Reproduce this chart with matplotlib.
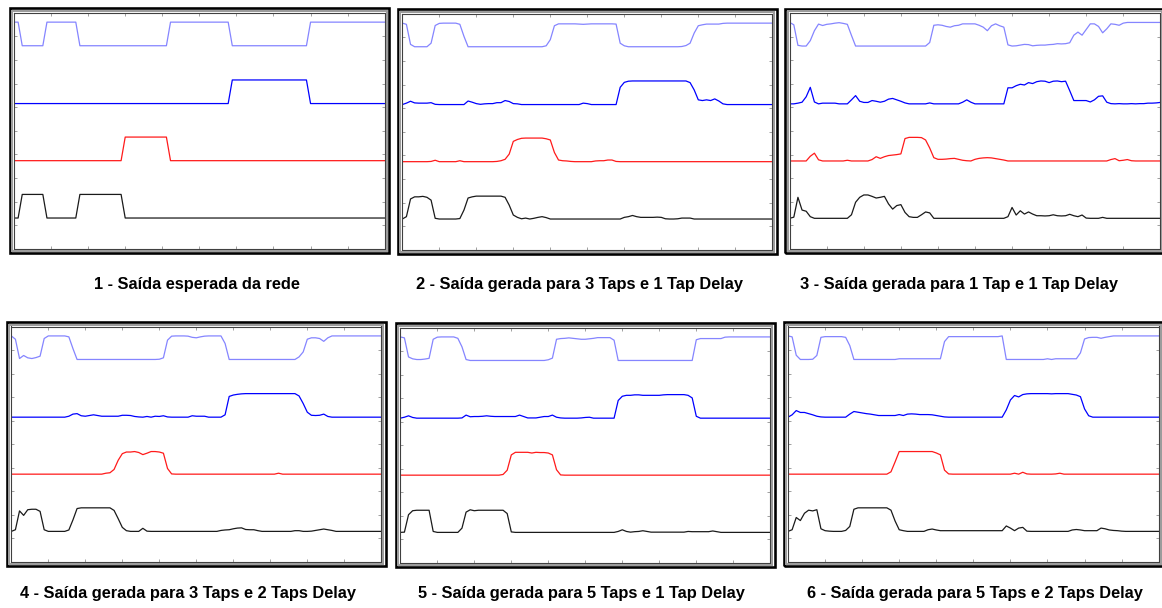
import matplotlib
matplotlib.use('Agg')
import matplotlib.pyplot as plt
from matplotlib.patches import Rectangle

W, H = 1162, 608

# time steps of the sequence (91 samples)
passos = list(range(91))

# output level of each channel, in % of one step (0 = low, 100 = high)
# 1 - expected output
esperada_c1 = [
    100,100,0,0,0,0,0,0,100,100, 100,100,100,100,100,100,0,0,0,0,
    0,0,0,0,0,0,0,0,0,0, 0,0,0,0,0,0,0,0,100,100,
    100,100,100,100,100,100,100,100,100,100, 100,100,100,0,0,0,0,0,0,0,
    0,0,0,0,0,0,0,0,0,0, 0,0,100,100,100,100,100,100,100,100,
    100,100,100,100,100,100,100,100,100,100, 100]
esperada_c2 = [
    0,0,0,0,0,0,0,0,0,0, 0,0,0,0,0,0,0,0,0,0,
    0,0,0,0,0,0,0,0,0,0, 0,0,0,0,0,0,0,0,0,0,
    0,0,0,0,0,0,0,0,0,0, 0,0,0,100,100,100,100,100,100,100,
    100,100,100,100,100,100,100,100,100,100, 100,100,0,0,0,0,0,0,0,0,
    0,0,0,0,0,0,0,0,0,0, 0]
esperada_c3 = [
    0,0,0,0,0,0,0,0,0,0, 0,0,0,0,0,0,0,0,0,0,
    0,0,0,0,0,0,0,100,100,100, 100,100,100,100,100,100,100,100,0,0,
    0,0,0,0,0,0,0,0,0,0, 0,0,0,0,0,0,0,0,0,0,
    0,0,0,0,0,0,0,0,0,0, 0,0,0,0,0,0,0,0,0,0,
    0,0,0,0,0,0,0,0,0,0, 0]
esperada_c4 = [
    0,0,100,100,100,100,100,100,0,0, 0,0,0,0,0,0,100,100,100,100,
    100,100,100,100,100,100,100,0,0,0, 0,0,0,0,0,0,0,0,0,0,
    0,0,0,0,0,0,0,0,0,0, 0,0,0,0,0,0,0,0,0,0,
    0,0,0,0,0,0,0,0,0,0, 0,0,0,0,0,0,0,0,0,0,
    0,0,0,0,0,0,0,0,0,0, 0]

# 2 - 3 taps, 1 tap delay
t3d1_c1 = [
    100,95,10,0,0,0,0,15,90,99, 100,100,100,100,95,44,0,0,0,0,
    0,0,0,0,0,0,0,0,0,0, 0,0,0,0,0,4,30,89,97,97,
    97,97,97,96,95,96,97,97,97,97, 97,97,96,15,4,0,0,0,0,0,
    0,0,0,0,0,0,0,0,1,5, 15,58,89,93,96,96,96,96,99,100,
    100,100,100,100,100,100,100,100,100,100, 100]
t3d1_c2 = [
    0,6,14,7,6,6,6,8,1,0, 0,0,0,0,0,0,15,10,4,1,
    3,4,4,8,8,17,13,4,3,0, 0,0,0,0,0,0,0,0,0,0,
    0,0,0,0,6,4,0,0,0,0, 0,0,0,73,94,99,100,100,100,100,
    100,100,100,100,100,100,100,100,100,100, 93,62,20,17,20,17,24,15,3,0,
    0,0,0,0,0,0,0,0,0,0, 0]
t3d1_c3 = [
    0,0,0,0,0,0,0,1,6,0, 0,0,0,0,4,0,0,0,0,0,
    0,0,0,1,4,10,32,86,94,99, 100,100,100,100,100,97,92,39,7,4,
    3,1,0,0,0,0,0,3,4,4, 7,7,1,0,0,0,0,0,0,0,
    0,0,0,0,0,0,0,0,0,0, 0,0,0,0,0,0,0,0,0,0,
    0,0,0,0,0,0,0,0,0,0, 0]
t3d1_c4 = [
    0,10,85,94,94,96,92,80,3,0, 0,0,0,0,2,38,89,94,97,97,
    97,97,97,97,97,92,59,17,7,1, 4,0,3,7,10,6,0,0,0,0,
    0,0,0,0,0,0,0,0,0,0, 0,0,0,0,7,10,15,10,7,7,
    7,7,8,7,1,0,0,1,4,4, 4,0,0,0,0,0,0,0,0,0,
    0,0,0,0,0,0,0,0,0,0, 0]

# 3 - 1 tap, 1 tap delay
t1d1_c1 = [
    100,90,3,0,0,23,65,93,87,92, 94,97,99,96,92,45,0,0,0,0,
    0,0,0,0,0,0,0,0,0,0, 0,0,0,0,15,88,90,88,83,80,
    86,88,94,94,94,94,88,80,65,86, 94,86,80,5,0,1,4,7,6,1,
    3,4,4,6,7,10,9,10,14,46, 59,46,70,94,94,83,56,73,94,92,
    88,97,100,100,100,100,100,100,100,100, 100]
t1d1_c2 = [
    0,0,3,7,30,70,8,0,3,3, 3,3,0,0,0,17,35,11,6,6,
    14,11,7,11,20,23,17,11,4,0, 0,0,0,0,4,0,0,0,0,0,
    0,0,7,17,7,0,0,0,0,0, 0,0,0,68,68,77,83,80,90,86,
    94,97,96,90,96,97,94,96,56,14, 14,14,14,8,17,32,34,7,1,0,
    1,0,0,1,0,1,1,3,3,4, 6]
t1d1_c3 = [
    0,0,0,0,0,20,33,5,0,0, 0,0,0,0,3,0,0,0,0,0,
    6,18,11,18,23,25,27,30,95,100, 100,100,99,89,55,14,7,7,8,10,
    11,7,3,1,0,7,11,13,14,13, 10,7,4,0,0,0,0,0,0,0,
    0,0,0,0,0,0,0,0,0,0, 0,0,0,0,0,0,0,0,6,10,
    1,3,6,1,0,0,0,0,0,0, 0]
t1d1_c4 = [
    0,5,89,35,30,7,0,0,0,0, 0,0,0,0,0,15,68,89,99,99,
    93,86,89,93,61,39,54,58,25,7, 4,4,15,27,23,0,0,0,0,0,
    0,0,0,0,0,0,0,0,0,0, 0,0,0,7,46,14,32,18,27,18,
    11,11,10,11,15,11,10,11,17,11, 7,14,1,0,0,0,4,0,0,0,
    0,0,0,0,0,0,0,0,0,0, 0]

# 4 - 3 taps, 2 taps delay
t3d2_c1 = [
    100,86,4,17,7,4,8,14,89,100, 100,100,100,100,96,46,0,0,0,0,
    0,0,0,0,0,0,0,0,0,0, 0,0,0,0,0,0,1,7,82,99,
    100,100,100,99,94,92,96,99,100,100, 100,100,68,0,0,0,0,0,0,0,
    0,0,0,0,0,0,0,0,0,0, 11,32,86,92,92,89,77,92,100,100,
    100,100,100,100,100,100,100,100,100,100, 100]
t3d2_c2 = [
    0,0,0,0,0,0,0,0,0,0, 0,0,0,0,4,13,15,6,4,7,
    10,7,4,4,4,4,4,8,8,7, 3,1,0,3,0,4,3,6,1,0,
    0,0,0,0,6,4,4,4,0,0, 0,0,10,88,94,97,99,100,100,100,
    100,100,100,100,100,100,100,100,100,100, 90,58,21,8,7,8,13,3,0,0,
    0,0,0,0,0,0,0,0,0,0, 0]
t3d2_c3 = [
    0,0,0,0,0,0,0,0,0,0, 0,0,0,0,0,0,0,0,0,0,
    0,0,0,4,6,20,59,87,94,94, 96,92,83,89,96,96,94,89,24,1,
    0,0,0,0,0,0,0,0,0,0, 0,0,0,0,0,0,0,0,0,0,
    0,0,0,0,0,4,0,0,0,0, 0,0,0,0,0,0,0,0,0,0,
    0,0,0,0,0,0,0,0,0,0, 0]
t3d2_c4 = [
    0,7,87,68,92,94,94,85,7,0, 0,0,0,0,6,49,97,100,100,100,
    100,100,100,100,100,89,54,17,3,0, 0,0,13,1,0,0,0,0,0,0,
    0,0,0,0,0,0,0,0,0,0, 0,4,6,7,11,14,15,8,7,7,
    3,0,0,0,0,0,0,0,0,3, 3,0,0,1,4,7,10,7,4,0,
    0,0,0,0,0,0,0,0,0,0, 0]

# 5 - 5 taps, 1 tap delay
t5d1_c1 = [
    100,96,15,7,4,4,6,9,90,99, 100,100,100,100,94,58,4,0,0,0,
    0,0,0,0,0,0,0,0,0,0, 0,0,0,0,0,0,3,10,90,93,
    94,96,94,92,90,90,92,94,97,97, 97,97,86,0,0,0,0,0,0,0,
    0,0,0,0,0,0,0,0,0,0, 0,0,88,93,93,93,93,93,93,99,
    100,100,100,100,100,100,100,100,100,100, 100]
t5d1_c2 = [
    0,4,10,3,0,0,0,0,0,0, 0,0,0,0,0,1,13,6,7,7,
    8,10,8,7,7,7,7,7,7,13, 7,1,1,1,4,7,7,13,4,1,
    0,0,0,0,1,3,4,0,0,0, 0,0,0,75,93,97,97,99,99,97,
    97,97,97,97,99,100,100,100,100,100, 97,86,8,0,0,0,0,0,0,0,
    0,0,0,0,0,0,0,0,0,0, 0]
t5d1_c3 = [
    0,0,0,0,0,0,0,0,0,0, 0,0,0,0,0,0,0,0,0,0,
    0,0,0,0,0,3,21,86,97,97, 97,97,94,97,96,96,94,86,23,1,
    0,0,0,0,0,0,0,0,0,0, 0,0,0,0,0,0,0,0,0,0,
    0,0,0,0,0,0,0,0,0,0, 0,0,0,0,0,0,0,0,0,0,
    0,0,0,0,0,0,0,0,0,0, 0]
t5d1_c4 = [
    0,1,75,92,94,94,94,94,4,0, 0,0,0,0,0,18,86,96,92,94,
    94,94,94,94,94,94,80,2,0,0, 0,0,0,0,0,0,0,0,0,0,
    0,0,0,0,0,0,0,0,0,0, 0,0,0,4,11,4,1,3,4,7,
    4,1,1,1,1,1,1,1,1,1, 4,3,3,3,3,3,6,3,0,0,
    0,0,0,0,0,0,0,0,0,0, 0]

# 6 - 5 taps, 2 taps delay
t5d2_c1 = [
    100,96,18,0,0,0,1,17,94,97, 97,97,97,97,94,59,0,0,0,0,
    0,0,0,0,0,0,0,3,3,3, 3,3,3,3,3,3,3,3,76,97,
    97,97,97,97,97,97,97,97,97,97, 97,97,100,0,0,0,0,0,0,0,
    0,0,0,3,0,3,3,3,3,3, 3,28,87,93,94,94,90,94,97,100,
    100,100,100,100,100,100,100,100,100,100, 100]
t5d2_c2 = [
    0,10,28,20,20,15,10,4,1,0, 0,0,0,0,0,13,24,21,18,15,
    13,10,7,7,7,7,7,11,7,13, 14,13,11,11,11,10,7,4,1,0,
    0,0,0,0,0,0,0,0,0,0, 0,0,0,31,73,92,86,96,99,100,
    100,100,100,100,99,100,100,100,100,97, 94,87,35,6,0,0,0,0,0,0,
    0,0,0,0,0,0,0,0,0,0, 0]
t5d2_c3 = [
    0,0,0,0,0,0,0,0,0,0, 0,0,0,0,0,0,0,0,0,0,
    0,0,0,0,0,10,52,96,96,96, 96,96,96,96,96,96,90,82,17,1,
    0,0,0,0,0,0,0,0,0,0, 0,0,0,0,0,4,0,8,1,0,
    0,0,0,0,0,1,4,0,0,0, 0,0,0,0,0,0,0,0,0,0,
    0,0,0,0,0,0,0,0,0,0, 0]
t5d2_c4 = [
    0,7,59,46,77,90,87,92,11,3, 1,0,0,0,4,21,94,100,100,100,
    100,100,100,100,100,90,44,7,3,0, 0,0,0,0,7,10,6,3,3,3,
    3,3,3,3,3,3,3,3,3,3, 3,3,3,23,14,3,14,17,1,0,
    0,0,0,0,0,0,0,0,0,6, 8,6,3,3,3,3,14,11,6,4,
    3,1,0,0,0,0,0,0,0,0, 0]

paineis = [
    [esperada_c1, esperada_c2, esperada_c3, esperada_c4],
    [t3d1_c1, t3d1_c2, t3d1_c3, t3d1_c4],
    [t1d1_c1, t1d1_c2, t1d1_c3, t1d1_c4],
    [t3d2_c1, t3d2_c2, t3d2_c3, t3d2_c4],
    [t5d1_c1, t5d1_c2, t5d1_c3, t5d1_c4],
    [t5d2_c1, t5d2_c2, t5d2_c3, t5d2_c4],
]

titulos = [
    '1 - Saída esperada da rede',
    '2 - Saída gerada para 3 Taps e 1 Tap Delay',
    '3 - Saída gerada para 1 Tap e 1 Tap Delay',
    '4 - Saída gerada para 3 Taps e 2 Taps Delay',
    '5 - Saída gerada para 5 Taps e 1 Tap Delay',
    '6 - Saída gerada para 5 Taps e 2 Taps Delay',
]

# base line of each channel on the 0..10 scale and its colour
niveis = [8.6, 6.15, 3.73, 1.3]
cores = ['#8585ff', '#0000ff', '#ff1a1a', '#1a1a1a']

# plot area of each panel in pixels (x0, y0, x1, y1), y from the top
caixas = [
    (14.0, 12.7, 384.7, 248.7),
    (402.3, 13.7, 772.3, 249.7),
    (789.7, 13.0, 1160.3, 249.0),
    (11.3, 326.5, 381.3, 562.0),
    (400.3, 327.5, 770.3, 563.0),
    (788.0, 326.5, 1158.7, 562.0),
]
# caption centre x and baseline y in pixels
legendas_pos = [(197, 289), (580, 289), (959, 289),
                (188, 598), (581, 598), (975, 598)]

fig = plt.figure(figsize=(W / 100, H / 100), dpi=100)
fig.patch.set_facecolor('white')


def px_rect(x0, y0, x1, y1):
    return [x0 / W, 1 - y1 / H, (x1 - x0) / W, (y1 - y0) / H]


for caixa, series, titulo, (cx, by) in zip(caixas, paineis, titulos, legendas_pos):
    ax = fig.add_axes(px_rect(*caixa))
    for nivel, cor, serie in zip(niveis, cores, series):
        ax.plot(passos, [nivel + v / 100 for v in serie], color=cor, lw=0.9)
    ax.set_xlim(0, 90)
    ax.set_ylim(0, 10)
    ax.set_xticks(range(9, 90, 9))
    ax.set_yticks(range(1, 10))
    ax.tick_params(direction='in', length=2.5, width=0.7, color='#a0a0a0',
                   top=True, right=True, labelbottom=False, labelleft=False)
    for sp in ax.spines.values():
        sp.set_color('#404040')
        sp.set_linewidth(0.8)

    # bevelled frame around the plot: grey band inside a black border
    x0, y0, x1, y1 = caixa
    for fora, larg, cor in [(4.3, 2.6, '#000000'), (2.0, 2.0, '#9c9c9c')]:
        fig.patches.append(Rectangle(
            ((x0 - fora) / W, 1 - (y1 + fora) / H),
            (x1 - x0 + 2 * fora) / W, (y1 - y0 + 2 * fora) / H,
            transform=fig.transFigure, fill=False, ec=cor, lw=larg * 0.72))

    fig.text(cx / W, 1 - by / H, titulo, ha='center', va='baseline',
             fontsize=11.8, fontweight='bold', family='Liberation Sans')

fig.savefig('out.png', dpi=100)
